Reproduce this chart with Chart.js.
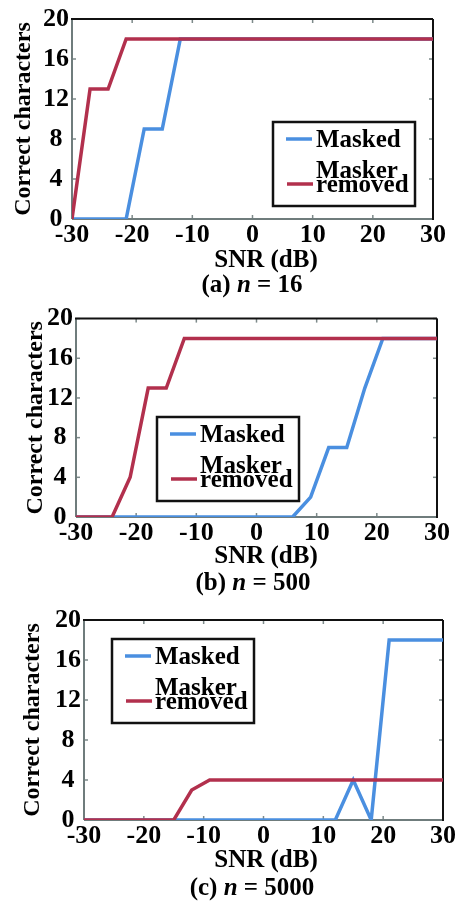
<!DOCTYPE html>
<html>
<head>
<meta charset="utf-8">
<script src="https://cdn.jsdelivr.net/npm/chart.js@4.4.1/dist/chart.umd.min.js"></script>
<style>
  html, body { margin: 0; padding: 0; background: #fff; }
  body { width: 457px; height: 901px; position: relative; overflow: hidden; }
  canvas { position: absolute; left: 0; }
</style>
</head>
<body>
<canvas id="chartA" width="457" height="300" style="top:0px"></canvas>
<canvas id="chartB" width="457" height="300" style="top:300px"></canvas>
<canvas id="chartC" width="457" height="301" style="top:600px"></canvas>
<script>
// SNR steps (dB), every 3 dB
const snr = [-30, -27, -24, -21, -18, -15, -12, -9, -6, -3, 0, 3, 6, 9, 12, 15, 18, 21, 24, 27, 30];
const xTicks = [-30, -20, -10, 0, 10, 20, 30];
const yTicks = [0, 4, 8, 12, 16, 20];
const seriesNames = ['Masked', 'Masker removed'];

// (a) n = 16
const maskedA  = [0, 0, 0, 0, 9, 9, 18, 18, 18, 18, 18, 18, 18, 18, 18, 18, 18, 18, 18, 18, 18];
const removedA = [0, 13, 13, 18, 18, 18, 18, 18, 18, 18, 18, 18, 18, 18, 18, 18, 18, 18, 18, 18, 18];
// (b) n = 500
const maskedB  = [0, 0, 0, 0, 0, 0, 0, 0, 0, 0, 0, 0, 0, 2, 7, 7, 13, 18, 18, 18, 18];
const removedB = [0, 0, 0, 4, 13, 13, 18, 18, 18, 18, 18, 18, 18, 18, 18, 18, 18, 18, 18, 18, 18];
// (c) n = 5000
const maskedC  = [0, 0, 0, 0, 0, 0, 0, 0, 0, 0, 0, 0, 0, 0, 0, 4, 0, 18, 18, 18, 18];
const removedC = [0, 0, 0, 0, 0, 0, 3, 4, 4, 4, 4, 4, 4, 4, 4, 4, 4, 4, 4, 4, 4];

const captionA = ['(a) ', 'n', ' = 16'];
const captionB = ['(b) ', 'n', ' = 500'];
const captionC = ['(c) ', 'n', ' = 5000'];

const FONT = "'Liberation Serif', 'Times New Roman', serif";
const BLUE = '#4a8fe0';
const RED = '#b2304d';

function line(ctx, x1, y1, x2, y2) {
  ctx.beginPath(); ctx.moveTo(x1, y1); ctx.lineTo(x2, y2); ctx.stroke();
}

const panelPlugin = {
  id: 'panel',
  beforeDatasetsDraw(chart, args, o) {
    const { ctx, chartArea: a, scales: { x, y } } = chart;
    ctx.save();
    ctx.strokeStyle = '#7d8a8a';
    ctx.lineWidth = 1.5;
    xTicks.forEach(v => {
      const px = x.getPixelForValue(v);
      line(ctx, px, a.bottom, px, a.bottom - 4);
      line(ctx, px, a.top, px, a.top + 4);
    });
    yTicks.forEach(v => {
      const py = y.getPixelForValue(v);
      line(ctx, a.left, py, a.left + 4, py);
      line(ctx, a.right, py, a.right - 4, py);
    });
    ctx.lineWidth = 2;
    ctx.strokeStyle = '#6f7c7c';
    line(ctx, a.left, a.top, a.left, a.bottom);
    line(ctx, a.left, a.bottom, a.right, a.bottom);
    ctx.strokeStyle = '#111';
    line(ctx, a.left - 1, a.top, a.right, a.top);
    line(ctx, a.right, a.top, a.right, a.bottom + 1);
    ctx.restore();
  },
  afterDatasetsDraw(chart, args, o) {
    const { ctx } = chart;
    const b = o.legend;
    ctx.save();
    ctx.fillStyle = '#fff';
    ctx.fillRect(b.x, b.y, 142, 84);
    ctx.strokeStyle = '#111';
    ctx.lineWidth = 2.5;
    ctx.strokeRect(b.x, b.y, 142, 84);
    ctx.lineWidth = 3.5;
    ctx.strokeStyle = BLUE;
    line(ctx, b.x + 13, b.y + 17, b.x + 39, b.y + 17);
    ctx.strokeStyle = RED;
    line(ctx, b.x + 14, b.y + 62, b.x + 40, b.y + 62);
    ctx.fillStyle = '#000';
    ctx.font = 'bold 25px ' + FONT;
    ctx.textBaseline = 'alphabetic';
    ctx.textAlign = 'left';
    ctx.fillText(seriesNames[0], b.x + 43, b.y + 25);
    const parts = seriesNames[1].split(' ');
    ctx.fillText(parts[0], b.x + 43, b.y + 56);
    ctx.fillText(parts[1], b.x + 43, b.y + 70);
    ctx.restore();
  },
  afterDraw(chart, args, o) {
    const { ctx } = chart;
    ctx.save();
    ctx.fillStyle = '#000';
    ctx.textBaseline = 'alphabetic';
    ctx.textAlign = 'center';
    ctx.font = 'bold 25px ' + FONT;
    ctx.fillText('SNR (dB)', 266, o.snrY);
    // caption with italic n
    const [p1, p2, p3] = o.caption;
    const reg = 'bold 25px ' + FONT, ita = 'italic bold 25px ' + FONT;
    ctx.font = reg; const w1 = ctx.measureText(p1).width; const w3 = ctx.measureText(p3).width;
    ctx.font = ita; const w2 = ctx.measureText(p2).width;
    let cx = o.capX - (w1 + w2 + w3) / 2;
    ctx.textAlign = 'left';
    ctx.font = reg; ctx.fillText(p1, cx, o.capY); cx += w1;
    ctx.font = ita; ctx.fillText(p2, cx, o.capY); cx += w2;
    ctx.font = reg; ctx.fillText(p3, cx, o.capY);
    ctx.restore();
  }
};

function makeChart(id, masked, removed, p) {
  const canvas = document.getElementById(id);
  const H = canvas.height;
  return new Chart(canvas, {
    type: 'line',
    data: {
      datasets: [
        {
          label: seriesNames[0],
          data: snr.map((s, i) => ({ x: s, y: masked[i] })),
          borderColor: BLUE,
          borderWidth: 3.5,
          pointRadius: 0,
          tension: 0,
          order: 1
        },
        {
          label: seriesNames[1],
          data: snr.map((s, i) => ({ x: s, y: removed[i] })),
          borderColor: RED,
          borderWidth: 3.5,
          pointRadius: 0,
          tension: 0,
          order: 0
        }
      ]
    },
    options: {
      responsive: false,
      animation: false,
      layout: { padding: { top: p.top, right: 457 - p.right, bottom: 0, left: 0 } },
      plugins: {
        legend: { display: false },
        tooltip: { enabled: false },
        panel: p
      },
      scales: {
        x: {
          type: 'linear',
          min: -30, max: 30,
          afterBuildTicks: s => { s.ticks = xTicks.map(v => ({ value: v })); },
          afterFit: s => { s.height = H - p.bottom; },
          grid: { display: false, drawTicks: false },
          border: { display: false },
          ticks: { color: '#000', padding: 1, maxRotation: 0, font: { family: FONT, size: 26, weight: 'bold' } }
        },
        y: {
          min: 0, max: 20,
          afterBuildTicks: s => { s.ticks = yTicks.map(v => ({ value: v })); },
          afterFit: s => { s.width = p.left; },
          grid: { display: false, drawTicks: false },
          border: { display: false },
          ticks: { color: '#000', padding: 3, crossAlign: 'center', font: { family: FONT, size: 26, weight: 'bold' } },
          title: {
            display: true,
            text: 'Correct characters',
            color: '#000',
            font: { family: FONT, size: 24, weight: 'bold' },
            padding: { top: p.titlePad, bottom: 0 }
          }
        }
      }
    },
    plugins: [panelPlugin]
  });
}

makeChart('chartA', maskedA, removedA, {
  left: 72, right: 433, top: 19, bottom: 219, titlePad: 9,
  legend: { x: 273, y: 122 }, snrY: 267, caption: captionA, capX: 252, capY: 292
});
makeChart('chartB', maskedB, removedB, {
  left: 76, right: 437, top: 17, bottom: 217, titlePad: 21,
  legend: { x: 157, y: 117 }, snrY: 263, caption: captionB, capX: 253, capY: 290
});
makeChart('chartC', maskedC, removedC, {
  left: 84, right: 445, top: 20, bottom: 220, titlePad: 18,
  legend: { x: 112, y: 39 }, snrY: 267, caption: captionC, capX: 252, capY: 295
});
</script>
</body>
</html>
